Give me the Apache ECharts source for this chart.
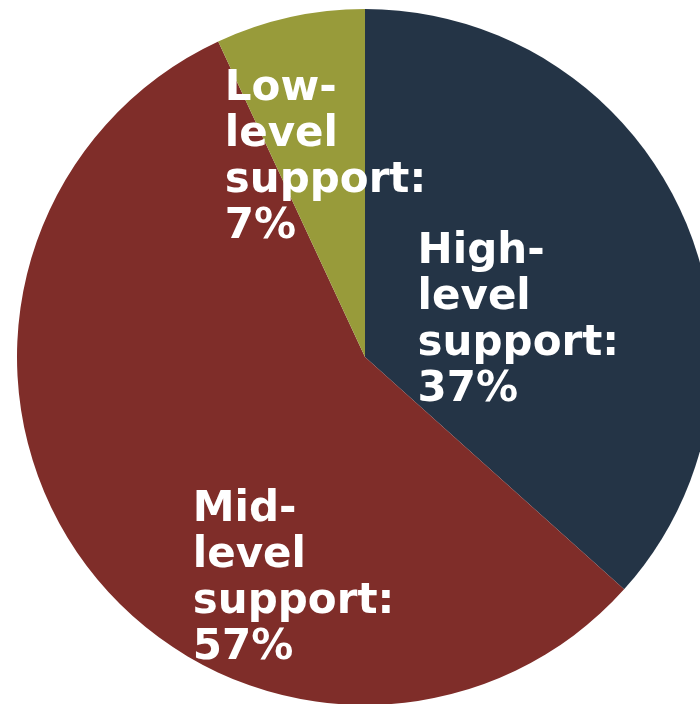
<!DOCTYPE html>
<html>
<head>
<meta charset="utf-8">
<script src="https://cdn.jsdelivr.net/npm/echarts@6/dist/echarts.min.js"></script>
<style>
  html, body { margin: 0; padding: 0; background: #ffffff; }
  #chart { width: 700px; height: 704px; }
</style>
</head>
<body>
<div id="chart"></div>
<script>
// Share of support levels
const categories = ['High-level support', 'Mid-level support', 'Low-level support'];
const shares = [37, 57, 7];
const colors = ['#243446', '#7f2d29', '#989b3a'];

// Nudge each label away from its default inside point
const labelShift = [[-109, -56], [-30, 25], [-102, -118]];

const chart = echarts.init(document.getElementById('chart'));

chart.setOption({
  animation: false,
  series: [{
    type: 'pie',
    center: [365, 357],
    radius: [0, 348],
    startAngle: 90,
    clockwise: true,
    silent: true,
    data: categories.map((name, i) => ({
      name: name,
      value: shares[i],
      itemStyle: { color: colors[i] }
    })),
    label: {
      show: true,
      position: 'inside',
      color: '#ffffff',
      fontFamily: 'DejaVu Sans',
      fontWeight: 'bold',
      fontSize: 42,
      lineHeight: 46,
      align: 'left',
      formatter: p => p.name.replace(/^(\w+)-level support$/, '$1-\nlevel\nsupport:') + '\n' + p.value + '%'
    },
    labelLayout: p => ({
      dx: labelShift[p.dataIndex][0],
      dy: labelShift[p.dataIndex][1],
      align: 'left',
      verticalAlign: 'top'
    }),
    labelLine: { show: false }
  }]
});
</script>
</body>
</html>
